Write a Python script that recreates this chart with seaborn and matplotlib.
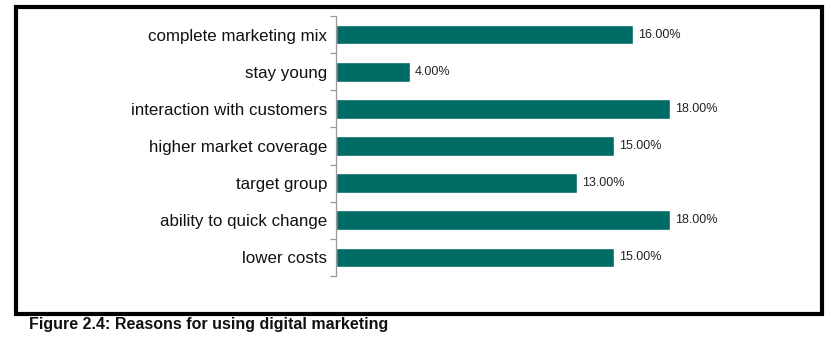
import matplotlib
matplotlib.use("Agg")
import matplotlib.pyplot as plt
import seaborn as sns
import pandas as pd
from matplotlib.patches import Rectangle

categories = ["complete marketing mix", "stay young", "interaction with customers",
              "higher market coverage", "target group", "ability to quick change", "lower costs"]
values = [16, 4, 18, 15, 13, 18, 15]
value_labels = ["16.00%", "4.00%", "18.00%", "15.00%", "13.00%", "18.00%", "15.00%"]
caption = "Figure 2.4: Reasons for using digital marketing"

sns.set_theme(style="white")
plt.rcParams['font.family'] = ['Liberation Sans', 'DejaVu Sans']

W, H = 831, 338
fig = plt.figure(figsize=(W / 100, H / 100), dpi=100)
ax = fig.add_axes([336 / W, 62 / H, (800 - 336) / W, 260 / H])

df = pd.DataFrame({"category": categories, "value": values})
sns.barplot(data=df, x="value", y="category", orient="h", color="#006C66",
            saturation=1, width=0.53, ax=ax)

ax.set_xlim(0, 25)
ax.set_ylim(len(categories) - 0.5, -0.5)
ax.set_xlabel("")
ax.set_ylabel("")
ax.set_xticks([])
for s in ["top", "right", "bottom"]:
    ax.spines[s].set_visible(False)
ax.spines["left"].set_color("#999999")
ax.spines["left"].set_linewidth(0.9)

ax.tick_params(axis="y", which="major", length=0, pad=6.5, labelsize=12.2, labelcolor="#111111")
ax.set_yticks([i - 0.5 for i in range(len(categories) + 1)], minor=True)
ax.tick_params(axis="y", which="minor", length=4.5, width=0.9, color="#999999", left=True)

for i, (v, lab) in enumerate(zip(values, value_labels)):
    ax.annotate(lab, xy=(v, i), xytext=(3.5, 0), textcoords="offset points",
                va="center", ha="left", fontsize=9, color="#222222")

fig.patches.append(Rectangle((16 / W, 1 - 313.5 / H), (821.5 - 16) / W, (313.5 - 7) / H,
                             transform=fig.transFigure, fill=False, edgecolor="black",
                             linewidth=3.0, zorder=10))

fig.text(29 / W, 1 - 325 / H, caption, ha="left", va="center", fontsize=11.5,
         fontweight="bold", color="#111111")

fig.savefig("out.png", dpi=100)
